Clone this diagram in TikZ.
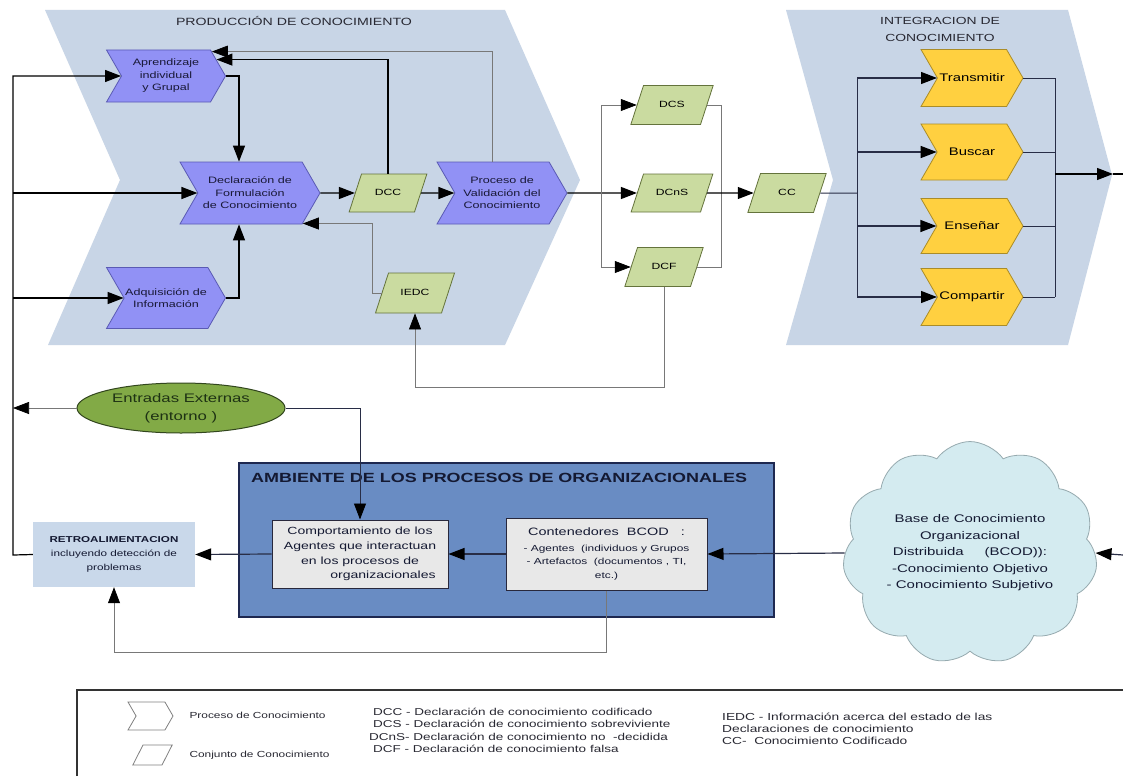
\documentclass[tikz,border=0pt]{standalone}
\usepackage{fontspec}
\setmainfont[FakeStretch=1.35]{Liberation Sans}
\usetikzlibrary{shapes.symbols,shapes.geometric,arrows.meta,calc}
\newcommand{\myfs}[2]{\fontsize{#1}{#2}\selectfont}
\definecolor{chevbg}{RGB}{200,213,230}
\definecolor{procfill}{RGB}{145,145,245}
\definecolor{procborder}{RGB}{90,90,180}
\definecolor{proctext}{RGB}{25,25,55}
\definecolor{gfill}{RGB}{202,219,160}
\definecolor{gborder}{RGB}{100,115,60}
\definecolor{yfill}{RGB}{255,208,64}
\definecolor{yborder}{RGB}{170,140,40}
\definecolor{ambfill}{RGB}{105,140,195}
\definecolor{ambborder}{RGB}{30,40,80}
\definecolor{boxfill}{RGB}{232,232,232}
\definecolor{boxborder}{RGB}{40,40,60}
\definecolor{retrofill}{RGB}{201,216,234}
\definecolor{entf}{RGB}{130,170,70}
\definecolor{entb}{RGB}{50,70,30}
\definecolor{enttext}{RGB}{30,50,20}
\definecolor{cloudf}{RGB}{212,235,240}
\definecolor{cloudb}{RGB}{150,170,175}
\definecolor{linegray}{RGB}{120,120,120}
\definecolor{busc}{RGB}{40,45,70}
\definecolor{titlec}{RGB}{40,40,50}
\definecolor{navy}{RGB}{20,25,50}
\begin{document}
\begin{tikzpicture}[x=1pt,y=-1pt,
  proc/.style={signal, signal from=west, signal to=east, signal pointer angle=120,
    draw=procborder, fill=procfill, line width=0.8pt, align=center, text=proctext,
    font=\myfs{9.3}{12.5}, inner sep=1pt},
  yproc/.style={proc, draw=yborder, fill=yfill, text=black, font=\myfs{11}{13}},
  paral/.style={trapezium, trapezium left angle=72, trapezium right angle=108,
    trapezium stretches=false, trapezium stretches body=false,
    draw=gborder, fill=gfill, line width=0.8pt, text width=33pt, align=center,
    text height=7pt, text depth=2pt, inner xsep=10pt, inner ysep=14.5pt,
    font=\myfs{9}{11}, text=black},
  tip/.style={-{Triangle[length=16pt,width=12pt,black]}},
  arr/.style={line width=1.2pt, draw=black, tip},
  darr/.style={line width=1.2pt, draw=busc, tip},
  thin/.style={line width=0.7pt, draw=linegray},
  thinarr/.style={thin, tip},
  bus/.style={line width=1pt, draw=busc},
  sbox/.style={rectangle, draw=boxborder, fill=boxfill, line width=1pt, align=center, inner sep=1pt}
]
\useasboundingbox (0,0) rectangle (1123,776);
\fill[white] (0,0) rectangle (1123,776);

% big chevrons
\fill[chevbg] (45,10) -- (505,10) -- (580,180) -- (505,345) -- (48,345) -- (120,180) -- cycle;
\fill[chevbg] (786,10) -- (1068,10) -- (1112,175) -- (1068,345) -- (786,345) -- (833,180) -- cycle;

\node[font=\myfs{10.5}{12}, text=titlec] (t1) at (294,21) {PRODUCCIÓN DE CONOCIMIENTO};
\node[font=\myfs{10.3}{17}, align=center, text=titlec] (t2) at (940,29) {INTEGRACION DE\\CONOCIMIENTO};

% production nodes
\node[proc, minimum width=119, minimum height=52] (aprend) at (166,76) {Aprendizaje\\individual\\y Grupal};
\node[proc, minimum width=140, minimum height=62] (decl) at (250,193) {Declaración de\\Formulación\\de Conocimiento};
\node[proc, minimum width=119, minimum height=61] (adq) at (166,298) {Adquisición de\\Información};
\node[proc, minimum width=130, minimum height=62] (valid) at (502,193) {Proceso de\\Validación del\\Conocimiento};
\node[paral] (dcc) at (388,193) {DCC};
\node[paral, inner ysep=15.5pt] (iedc) at (415,293) {IEDC};

% knowledge sets
\node[paral, inner ysep=15pt, inner xsep=12pt] (dcs) at (672,105) {DCS};
\node[paral, inner xsep=12pt] (dcns) at (672,193) {DCnS};
\node[paral, inner ysep=15pt] (dcf) at (664,267) {DCF};
\node[paral, inner ysep=15pt] (cc) at (787,193) {CC};

% integration
\node[yproc, minimum width=102, minimum height=57] (trans) at (972,78) {Transmitir};
\node[yproc, minimum width=102, minimum height=56] (busc) at (972,152) {Buscar};
\node[yproc, minimum width=102, minimum height=55] (ens) at (972,226) {Enseñar};
\node[yproc, minimum width=102, minimum height=57] (compa) at (972,297) {Compartir};

% bottom
\node[ellipse, draw=entb, fill=entf, line width=1pt, minimum width=208, minimum height=50,
  inner sep=0pt, align=center, font=\myfs{12.4}{18}, text=enttext] (ent) at (181,408) {Entradas Externas\\(entorno )};

\node[rectangle, draw=ambborder, fill=ambfill, line width=1.2pt, minimum width=535, minimum height=154] (amb) at (506.5,540) {};
\node[anchor=west, font=\bfseries\myfs{13.3}{15}, text=navy, inner sep=0pt] (ambt) at (251,478) {AMBIENTE DE LOS PROCESOS DE ORGANIZACIONALES};

\node[sbox, minimum width=176, minimum height=68, font=\myfs{10.4}{14.8}, text=navy] (comp) at (360,554)
  {Comportamiento de los\\Agentes que interactuan\\en los procesos de\\\hspace*{46pt}organizacionales};
\node[sbox, minimum width=201, minimum height=72, font=\myfs{8.8}{13.5}, text=navy] (cont) at (606.5,554)
  {{\myfs{10.7}{13}Contenedores\ \ BCOD\ \ \ :}\\[2pt]- Agentes\ \ (individuos y Grupos\\- Artefactos\ \ (documentos , TI,\\etc.)};

\node[rectangle, fill=retrofill, minimum width=162, minimum height=65, align=center, inner sep=1pt,
  font=\myfs{8.7}{14}, text=navy] (retro) at (114,554.5)
  {{\bfseries\myfs{8.6}{14}RETROALIMENTACION}\\incluyendo detección de\\problemas};

\node[cloud, cloud puffs=11, cloud puff arc=110, aspect=1.2, draw=cloudb, fill=cloudf, line width=0.8pt,
  minimum width=226, minimum height=192, align=center, inner sep=0pt, font=\myfs{11.1}{16.5}, text=navy] (cloud) at (970,553)
  {Base de Conocimiento\\Organizacional\\Distribuida\ \ \ \ \ (BCOD)):\\-Conocimiento Objetivo\\- Conocimiento Subjetivo};

% coordinates
\coordinate (lbus) at (13,555);
\coordinate (busA) at (601,193);
\coordinate (busB) at (721,193);
\coordinate (busC) at (857,193);
\coordinate (busD) at (1055,174);
\coordinate (outR) at (1113,174);
\coordinate (edgeR) at (1123,174);
\coordinate (edgeR2) at (1123,555);
\coordinate (lowA) at (0,387);
\coordinate (lowB) at (0,652);

% production connectors
\draw[arr] (retro.west) -- (lbus) |- (aprend.west);
\draw[arr] (lbus |- decl.west) -- (decl.west);
\draw[arr] (lbus |- adq.west) -- (adq.west);
\draw[arr] (aprend.east) -| ([xshift=-11pt]decl.north);
\draw[arr] (adq.east) -| ([xshift=-11pt]decl.south);
\draw[arr] (decl.east) -- (dcc.west);
\draw[arr] (dcc.east) -- (valid.west);
\draw[arr] (dcc.north) |- (aprend.18);
\draw[thinarr] ([xshift=-10pt]valid.north) |- (aprend.28);
\draw[thinarr] (iedc.west) -- ++(-9,0) |- (decl.-30);
\draw[thinarr] (dcf.south) -- (dcf.south |- lowA) -- (iedc.south |- lowA) -- (iedc.south);

% split
\draw[arr] (valid.east) -- (dcns.west);
\draw[thin] (busA |- dcs.west) -- (busA |- dcf.west);
\draw[thinarr] (busA |- dcs.west) -- (dcs.west);
\draw[thinarr] (busA |- dcf.west) -- (dcf.west);
\draw[thin] (dcs.east) -- (busB |- dcs.east) -- (busB |- dcf.east) -- (dcf.east);
\draw[arr] (dcns.east) -- (cc.west);

% integration
\draw[bus] (cc.east) -- (busC);
\draw[bus] (busC |- trans.west) -- (busC |- compa.west);
\draw[darr] (busC |- trans.west) -- (trans.west);
\draw[darr] (busC |- busc.west) -- (busc.west);
\draw[darr] (busC |- ens.west) -- (ens.west);
\draw[darr] (busC |- compa.west) -- (compa.west);
\draw[bus] (trans.east) -- (busD |- trans.east);
\draw[bus] (busc.east) -- (busD |- busc.east);
\draw[bus] (ens.east) -- (busD |- ens.east);
\draw[bus] (compa.east) -- (busD |- compa.east);
\draw[bus] (busD |- trans.east) -- (busD |- compa.east);
\draw[arr] (busD) -- (outR);
\draw[line width=1.2pt] (outR) -- (edgeR);

% bottom connectors
\draw[thinarr] (ent.west) -- (lbus |- ent.west);
\draw[darr, line width=0.9pt] (ent.east) -| (comp.north);
\draw[darr] (cont.west) -- (comp.east);
\draw[darr] (comp.west) -- (retro.east);
\draw[darr] (cloud.west) -- (cont.east);
\draw[darr] (edgeR2) -- (cloud.east);
\draw[thinarr] (cont.south) -- (cont.south |- lowB) -| (retro.south);

% legend
\draw[line width=1.2pt, draw=black!80] (77,776) -- (77,690) -- (1123,690);
\node[signal, signal from=west, signal to=east, signal pointer angle=120, draw=gray, fill=white,
  line width=0.8pt, minimum width=45, minimum height=28, inner sep=0pt] (lgproc) at (150.5,716) {};
\node[trapezium, trapezium left angle=63, trapezium right angle=117, trapezium stretches=false,
  trapezium stretches body=false, draw=gray, fill=white, line width=0.8pt, text width=2pt,
  minimum height=20, inner xsep=8.5, inner ysep=4] (lgset) at (152.5,755) {\strut};
\node[anchor=west, font=\myfs{8.8}{11}, text=titlec] (lgt1) at (186,715) {Proceso de Conocimiento};
\node[anchor=west, font=\myfs{8.8}{11}, text=titlec] (lgt2) at (186,755) {Conjunto de Conocimiento};
\node[anchor=west, align=left, font=\myfs{10}{12.5}, text=titlec, inner sep=0pt] (lgt3) at (373,730.5)
  {DCC - Declaración de conocimiento codificado\\DCS - Declaración de conocimiento sobreviviente\\\hspace*{-4pt}DCnS- Declaración de conocimiento no\ \ -decidida\\DCF - Declaración de conocimiento falsa};
\node[anchor=west, align=left, font=\myfs{10.2}{12}, text=titlec, inner sep=0pt] (lgt4) at (722,729)
  {IEDC - Información acerca del estado de las\\Declaraciones de conocimiento\\CC-\ \ Conocimiento Codificado};
\end{tikzpicture}
\end{document}
